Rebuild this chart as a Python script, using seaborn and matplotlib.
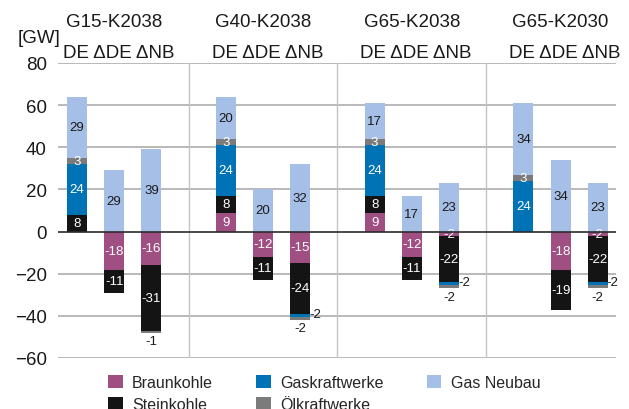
import numpy as np
import pandas as pd
import seaborn as sns
import matplotlib.pyplot as plt
from matplotlib.patches import Patch

sns.set_theme(style='white')
plt.rcParams['font.family'] = ['Liberation Sans', 'DejaVu Sans']

# scenarios and bars per scenario
groups = ['G15-K2038', 'G40-K2038', 'G65-K2038', 'G65-K2030']
bars = ['DE', 'ΔDE', 'ΔNB']

# values per bar (12 bars: group x [DE, ΔDE, ΔNB]), in GW
braunkohle = [0, -18, -16,   9, -12, -15,   9, -12, -2,   0, -18, -2]
steinkohle = [8, -11, -31,   8, -11, -24,   8, -11, -22,  0, -19, -22]
gaskraft   = [24, 0, 0,      24, 0, -1.5,   24, 0, -1.5,  24, 0, -1.5]
oelkraft   = [3, 0, -1,      3, 0, -1.5,    3, 0, -1.5,   3, 0, -1.5]
gasneubau  = [29, 29, 39,    20, 20, 32,    17, 17, 23,   34, 34, 23]

names = ['Braunkohle', 'Steinkohle', 'Gaskraftwerke', 'Ölkraftwerke', 'Gas Neubau']
colors = ['#a04f83', '#141414', '#0072b6', '#7b7b7b', '#a5bfe6']
text_colors = ['white', 'white', 'white', 'white', '#1a1a1a']
layers = [braunkohle, steinkohle, gaskraft, oelkraft, gasneubau]

# x positions: three bars per group, one empty slot between groups
pos = np.array([g * 4 + b for g in range(len(groups)) for b in range(len(bars))], dtype=float)
width = 0.54

vals = np.array(layers, dtype=float)
posv = np.where(vals > 0, vals, 0)
negv = np.where(vals < 0, vals, 0)
pos_top = np.cumsum(posv, axis=0)
neg_bot = np.cumsum(negv, axis=0)

fig = plt.figure(figsize=(6.29, 4.10), dpi=100)
ax = fig.add_axes([58 / 629, 51 / 410, 558 / 629, 295 / 410])

# stacked bars drawn as overlapping cumulative bars, outermost layer first
# (all 12 positions kept in every call so the bar width stays the same)
for i in reversed(range(len(layers))):
    for cum in (pos_top[i], neg_bot[i]):
        df = pd.DataFrame({'x': pos, 'y': cum})
        sns.barplot(data=df, x='x', y='y', native_scale=True, color=colors[i],
                    saturation=1, width=width, linewidth=0, errorbar=None, ax=ax)

# segment labels
for i in range(len(layers)):
    for j, x in enumerate(pos):
        v = vals[i, j]
        if v == 0:
            continue
        if v > 0:
            lo, hi = pos_top[i, j] - v, pos_top[i, j]
        else:
            lo, hi = neg_bot[i, j], neg_bot[i, j] - v
        lab = '%.0f' % v
        if abs(v) < 2 and names[i] == 'Gaskraftwerke':
            ax.text(x + width / 2 - 0.03, (lo + hi) / 2 + 0.6, lab, ha='left', va='center',
                    fontsize=9.5, color='#1a1a1a')
        elif abs(v) < 2 and names[i] == 'Ölkraftwerke':
            ax.text(x, lo - 1.0, lab, ha='center', va='top', fontsize=9.5, color='#1a1a1a')
        else:
            ax.text(x, (lo + hi) / 2, lab, ha='center', va='center', fontsize=9.5,
                    color=text_colors[i])

ax.set_xlim(-0.51, 14.49)
ax.set_ylim(-60, 80)
ax.set_yticks(range(-60, 81, 20))
ax.set_xticks([])
ax.set_xlabel('')
ax.set_ylabel('')
ax.tick_params(axis='y', length=0, pad=8, labelsize=13.5, colors='#1a1a1a')
for s in ax.spines.values():
    s.set_visible(False)
ax.grid(False)
for t in range(-60, 81, 20):
    if t != 0:
        ax.axhline(t, color='#a6a6a6', lw=1.1, zorder=0)
ax.axhline(0, color='#2b2b2b', lw=1.2, zorder=3)
for k in range(1, len(groups)):
    ax.axvline(k * 4 - 1, color='#c4c4c4', lw=1.0, zorder=0)

# scenario titles and bar names above the plot
for g, name in enumerate(groups):
    c = g * 4 + 1
    ax.text(c, 1.142, name, transform=ax.get_xaxis_transform(), ha='center', va='center',
            fontsize=13.5, color='#1a1a1a')
    ax.text(c + 0.12, 1.037, ' '.join(bars), transform=ax.get_xaxis_transform(),
            ha='center', va='center', fontsize=13.5, color='#1a1a1a')
fig.text(60 / 629, 1 - 38.5 / 410, '[GW]', ha='right', va='center', fontsize=13.5,
         color='#1a1a1a')

handles = [Patch(facecolor=c, edgecolor='none') for c in colors]
fig.legend(handles, names, loc='upper left', bbox_to_anchor=(97 / 629, 1 - 365 / 410),
           ncol=3, frameon=False, fontsize=11.5, handlelength=0.9, handleheight=0.9,
           handletextpad=0.6, columnspacing=2.7, labelspacing=0.4, borderpad=0.2)

fig.savefig('out.png', dpi=100)
